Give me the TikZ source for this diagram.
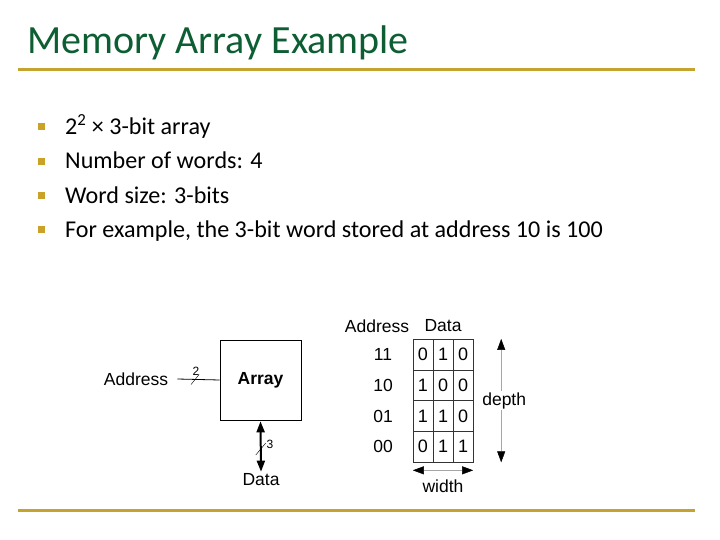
\documentclass[tikz,border=0pt]{standalone}
\usepackage{fontspec}
\setmainfont{Carlito}
\newfontfamily\diagfont{Liberation Sans}
\usetikzlibrary{positioning,arrows.meta,calc}
\definecolor{TitleGreen}{HTML}{0E5E33}
\definecolor{RuleGold}{HTML}{C4A32E}
\definecolor{BulletGold}{HTML}{C9A227}

\begin{document}
\begin{tikzpicture}[
  x=1pt, y=-1pt,
  >={Triangle[length=11pt,width=8pt,black]},
  slidetext/.style={font=\fontsize{24.1}{28}\selectfont,anchor=base west,inner sep=0pt},
  bulletsq/.style={fill=BulletGold,minimum size=7pt,inner sep=0pt},
  goldrule/.style={draw=RuleGold,line width=3pt},
  lbl/.style={font=\diagfont\fontsize{17.5}{20}\selectfont,inner sep=1pt},
  small/.style={font=\diagfont\fontsize{12}{14}\selectfont,inner sep=1pt},
  cellbox/.style={draw=black!80,minimum width=20pt,minimum height=30.75pt,inner sep=0pt,
    font=\diagfont\fontsize{18}{20}\selectfont},
  bus/.style={line width=0.8pt},
  dim/.style={<->,draw=gray!70,line width=0.5pt}
]
\useasboundingbox[fill=white] (0,0) rectangle (720,540);

% Title and rules
\node[font=\fontsize{40}{46}\selectfont,text=TitleGreen,anchor=base west,inner sep=0pt]
  (title) at (27,54) {Memory Array Example};
\draw[goldrule] (18,70) -- (695,70);
\draw[goldrule] (18,510) -- (695,510);

% Bullet list
\foreach \txt [count=\k from 0] in {{2\textsuperscript{2} × 3-bit array},
    {Number of words: 4},{Word size: 3-bits},
    {For example, the 3-bit word stored at address 10 is 100}} {
  \node[bulletsq] (bul\k) at (41,{127+34.3*\k}) {};
  \node[slidetext] (item\k) at (65,{134.5+34.3*\k}) {\txt};
}

% Array block
\node[draw,line width=0.6pt,minimum width=81pt,minimum height=80pt,
  font=\diagfont\bfseries\fontsize{17.5}{20}\selectfont] (array) at (260.5,380) {Array};
\node[lbl] (addrin) at (136,379) {Address};
\draw[bus] ([xshift=8pt]addrin.east) -- coordinate[pos=0.42] (slashA) (array.west);
\draw (slashA) ++(-4,5) -- ++(8,-10);
\node[small] (widthA) at (196,371) {2};

\node[lbl] (dataout) at (261,480) {Data};
\draw[<->,line width=2pt] ([yshift=-1pt]array.south) -- coordinate[pos=0.55] (slashD) ([yshift=1pt]dataout.north);
\draw (slashD) ++(-5,6) -- ++(10,-12);
\node[small] (widthD) at (270,444) {3};

% Memory contents
\node[lbl] (addrhead) at (377,326) {Address};
\node[lbl] (datahead) at (443,326) {Data};
\foreach \addr/\bits [count=\r from 0] in {11/{0,1,0},10/{1,0,0},01/{1,1,0},00/{0,1,1}} {
  \node[lbl] (addr\r) at (383,{354.5+30.75*\r}) {\addr};
  \foreach \b [count=\c from 0] in \bits {
    \node[cellbox] (cell\r\c) at ({423+20*\c},{354.5+30.75*\r}) {\b};
  }
}

\draw[dim] ($(cell02.north east)+(28,0)$) --
  node[lbl,fill=white,xshift=3pt] {depth} ($(cell32.south east)+(28,0)$);
\draw[dim] ($(cell30.south west)+(0,8)$) --
  node[lbl,below=8pt] {width} ($(cell32.south east)+(0,8)$);

\end{tikzpicture}
\end{document}
